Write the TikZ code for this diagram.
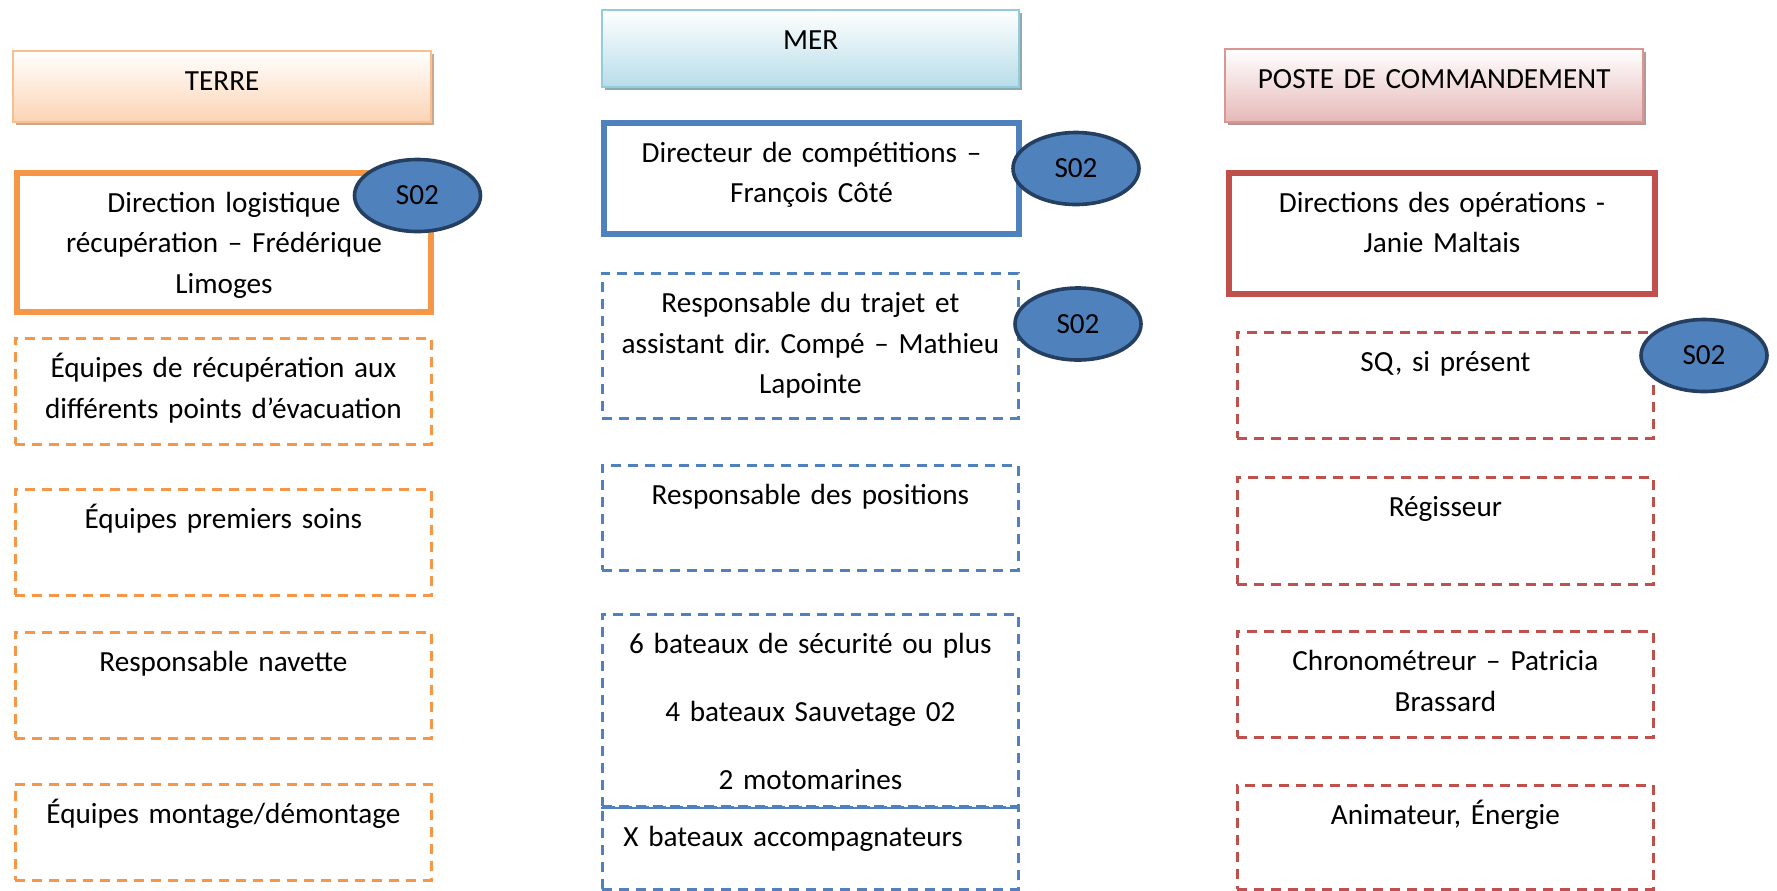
\documentclass[tikz,border=0pt]{standalone}
\usepackage{fontspec}
\setmainfont{Carlito}
\frenchspacing
\usetikzlibrary{shapes.geometric,shadows}
\definecolor{terre}{HTML}{F79646}
\definecolor{mer}{HTML}{4F81BD}
\definecolor{poste}{HTML}{C0504D}
\definecolor{badgeline}{HTML}{243F60}
\definecolor{terrehead}{HTML}{FBD4B4}
\definecolor{terreedge}{HTML}{F9BF8F}
\definecolor{terreshade}{HTML}{C9A88D}
\definecolor{merhead}{HTML}{B7DDE8}
\definecolor{meredge}{HTML}{93CDDD}
\definecolor{mershade}{HTML}{8EA9B0}
\definecolor{postehead}{HTML}{E5B9B7}
\definecolor{posteedge}{HTML}{D99694}
\definecolor{posteshade}{HTML}{B49797}
\begin{document}
\begin{tikzpicture}[
x=0.5pt, y=-0.5pt,
every node/.style={font=\fontsize{14.6}{20.3}\selectfont},
cell/.style 2 args={text width=#1, text depth=#2, text height=19.5pt, inner sep=0pt, anchor=north west, align=center},
head/.style n args={3}{draw=#1, line width=1.2pt, top color=white, bottom color=#2,
  drop shadow={shadow xshift=1.5pt, shadow yshift=-1.5pt, fill=#3, opacity=1}},
lead/.style={draw=#1, line width=3pt},
crew/.style={draw=#1, line width=1.4pt, dash pattern=on 5pt off 3.5pt},
s02/.style={ellipse, draw=badgeline, line width=1.8pt, fill=mer, minimum width=63pt, minimum height=36pt, inner sep=0pt}
]
\useasboundingbox (0,0) rectangle (1777,890);

% terre
\node[head={terreedge}{terrehead}{terreshade}, cell={209pt}{16pt}] (terre) at (12,50) {TERRE};
\node[lead=terre, cell={207pt}{50pt}] (logistique) at (14,170)
  {Direction logistique\\ récupération – Frédérique\\ Limoges};
\node[crew=terre, cell={208pt}{33.5pt}] (recup) at (14,337)
  {Équipes de récupération aux\\ différents points d’évacuation};
\node[crew=terre, cell={208pt}{33.5pt}] (soins) at (14,488) {Équipes premiers soins};
\node[crew=terre, cell={208pt}{33.5pt}] (navette) at (14,631) {Responsable navette};
\node[crew=terre, cell={208pt}{28.5pt}] (montage) at (14,783) {Équipes montage/démontage};

% mer
\node[head={meredge}{merhead}{mershade}, cell={208.5pt}{19pt}] (mer) at (601,9) {MER};
\node[lead=mer, cell={207.5pt}{36pt}] (directeur) at (601,120)
  {Directeur de compétitions –\\ François Côté};
\node[crew=mer, cell={208pt}{53pt}] (trajet) at (601,272)
  {Responsable du trajet et\\ assistant dir. Compé – Mathieu\\ Lapointe};
\node[crew=mer, cell={208pt}{33pt}] (positions) at (601,464) {Responsable des positions};
\node[crew=mer, cell={208pt}{76.5pt}] (bateaux) at (601,613)
  {6 bateaux de sécurité ou plus\\[13.7pt] 4 bateaux Sauvetage 02\\[13.7pt] 2 motomarines};
\node[crew=mer, cell={187pt}{21.5pt}, inner xsep=10.5pt, align=left] (accomp) at (601,806)
  {X bateaux accompagnateurs};
\draw[mer, line width=1.2pt] (bateaux.south west) -- (bateaux.south east);

% poste de commandement
\node[head={posteedge}{postehead}{posteshade}, cell={209pt}{17pt}] (poste) at (1224,48) {POSTE DE COMMANDEMENT};
\node[lead=poste, cell={213pt}{41pt}] (operations) at (1226,170)
  {Directions des opérations -\\ Janie Maltais};
\node[crew=poste, cell={208pt}{33.5pt}] (sq) at (1236,331) {SQ, si présent};
\node[crew=poste, cell={208pt}{34pt}] (regisseur) at (1236,476) {Régisseur};
\node[crew=poste, cell={208pt}{33.5pt}] (chrono) at (1236,630)
  {Chronométreur – Patricia\\ Brassard};
\node[crew=poste, cell={208pt}{32.5pt}] (animateur) at (1236,784) {Animateur, Énergie};

% S02
\node[s02] (s02a) at (417.5,195.5) {S02};
\node[s02] (s02b) at (1076,168.5) {S02};
\node[s02] (s02c) at (1078,324) {S02};
\node[s02] (s02d) at (1704,355.5) {S02};
\end{tikzpicture}
\end{document}
